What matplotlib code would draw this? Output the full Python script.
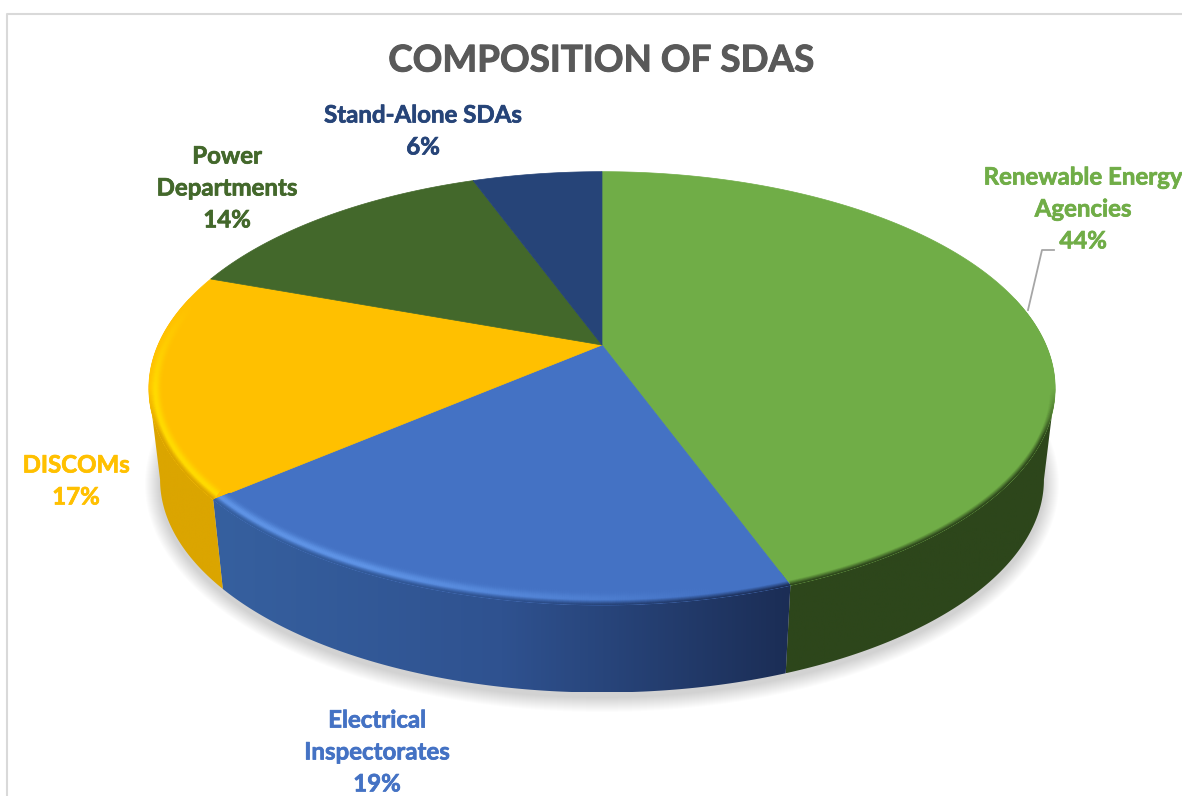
import numpy as np
import matplotlib
matplotlib.use('Agg')
import matplotlib.pyplot as plt
from matplotlib.collections import LineCollection
from matplotlib.colors import LinearSegmentedColormap, to_rgb
from matplotlib.patches import Ellipse, Polygon
import matplotlib.patheffects as pe

# chart data
categories = ['Renewable Energy\nAgencies', 'Electrical\nInspectorates', 'DISCOMs',
              'Power\nDepartments', 'Stand-Alone SDAs']
shares = [44.4, 19.4, 16.7, 13.9, 5.6]
title = 'COMPOSITION OF SDAS'

colors = ['#70ad47', '#4472c4', '#ffc000', '#43682b', '#264478']
highlights = ['#70ad47', '#5f94e6', '#ffdb00', '#43682b', '#264478']
side_stops = [['#2d461b', '#2d461b'], ['#36609f', '#2f5290', '#1b2d55'],
              ['#dba500', '#dba500'], ['#2d461b', '#2d461b'], ['#1b2d55', '#1b2d55']]
label_xy = [(1083, 209), (377, 752), (76, 481), (227, 188), (423, 131)]

# projection of the pie disc in image pixels
APEX = (602, 345)
TOP_A, TOP_B = 444, 208
BASE_APEX = (602, 437)
BASE_A, BASE_B = 433, 204.4
K = 0.2
ELL_CY = 388.5
ELL_RX, ELL_RY = 453, 216.5
SILHOUETTE = np.degrees(np.arcsin(K))
FADE = 25


def disc(theta_deg, apex, a, b):
    t = np.radians(theta_deg)
    d = 1 + K * np.sin(t)
    return apex[0] + a * np.cos(t) / d, apex[1] - b * np.sin(t) / d


def inset(x, y, t):
    # move a rim point t pixels inward, along the ellipse normal
    nx = (x - APEX[0]) / ELL_RX ** 2
    ny = (y - ELL_CY) / ELL_RY ** 2
    n = np.hypot(nx, ny)
    return x - t * nx / n, y - t * ny / n


fig = plt.figure(figsize=(11.82, 7.96), dpi=100, facecolor='white')
ax = fig.add_axes([0, 0, 1, 1])
ax.axis('off')
plt.rcParams['font.family'] = ['Lato', 'DejaVu Sans']

# chart frame
ax.plot([7, 7, 1182], [796, 14, 14], color='#d9d9d9', lw=1.5, zorder=1)

# soft shadow under the pie
for grow in range(1, 16):
    ax.add_patch(Ellipse((BASE_APEX[0], 484), 2 * (442 + grow), 2 * (213 + grow),
                         fc='black', ec='none', alpha=0.012, zorder=2))

ends = 90 - 3.6 * np.cumsum(shares)
starts = np.r_[90, ends[:-1]]
vis_hi, vis_lo = -SILHOUETTE, -180 + SILHOUETTE

# sides of the slices that face the viewer
for hi, lo, stops in zip(starts, ends, side_stops):
    a, b = min(hi, vis_hi), max(lo, vis_lo)
    if a <= b:
        continue
    th = np.linspace(a, b, 200)
    tx, ty = disc(th, APEX, TOP_A, TOP_B)
    bx, by = disc(th, BASE_APEX, BASE_A, BASE_B)
    pts = np.r_[np.c_[tx, ty], np.c_[bx, by][::-1]]
    poly = Polygon(pts, closed=True, fc='none', ec='none', zorder=3)
    ax.add_patch(poly)
    cmap = LinearSegmentedColormap.from_list('side', stops)
    im = ax.imshow(np.linspace(0, 1, 256)[None, :], cmap=cmap, aspect='auto', zorder=3,
                   extent=(pts[:, 0].min(), pts[:, 0].max(), pts[:, 1].max(), pts[:, 1].min()))
    im.set_clip_path(poly)

# top faces, with the bevel along the front rim
for hi, lo, col, hl, stops in zip(starts, ends, colors, highlights, side_stops):
    th = np.linspace(hi, lo, 300)
    x, y = disc(th, APEX, TOP_A, TOP_B)
    pts = np.r_[[APEX], np.c_[x, y]]
    face = Polygon(pts, closed=True, fc=col, ec=col, lw=0.5, zorder=4)
    ax.add_patch(face)

    a, b = min(hi, vis_hi + FADE), max(lo, vis_lo - FADE)
    if a <= b:
        continue
    cmap = LinearSegmentedColormap.from_list('side', stops)
    th = np.linspace(a, b, 300)
    x, y = disc(th, APEX, TOP_A, TOP_B)
    xs = np.linspace(x.min(), x.max(), 2)
    fade = np.clip(np.minimum(th[:-1] - (vis_lo - FADE), (vis_hi + FADE) - th[:-1]) / FADE, 0, 1)[:, None]
    taper = np.clip(np.minimum(th[:-1] - vis_lo, vis_hi - th[:-1]) / 12, 0, 1)[:, None]
    for t in np.arange(15, -0.5, -0.5):
        ix, iy = inset(x, y, t)
        seg = np.stack([np.c_[ix[:-1], iy[:-1]], np.c_[ix[1:], iy[1:]]], axis=1)
        lit = np.clip((720 - ix[:-1]) / 350, 0, 1)[:, None]
        h = np.exp(-((t - 6) / 4.5) ** 2) * lit * fade
        e = np.clip(1 - t / 4.5, 0, 1) * taper
        side = cmap((ix[:-1] - xs[0]) / (xs[1] - xs[0]))[:, :3]
        rgb = np.array(to_rgb(col)) * (1 - h) + np.array(to_rgb(hl)) * h
        rgb = rgb * (1 - e) + side * e
        lc = LineCollection(seg, colors=rgb, lw=1.3, capstyle='butt', zorder=5)
        ax.add_collection(lc)
        lc.set_clip_path(face)

# leader line for the first label
ax.plot([1028, 1042, 1054], [310, 250, 250], color='#a6a6a6', lw=1.3, zorder=6)

# labels and title
for name, share, col, (lx, ly) in zip(categories, shares, colors, label_xy):
    ax.text(lx, ly, f'{name}\n{share:.0f}%', color=col, fontsize=17.3, fontweight='bold',
            ha='center', va='center', linespacing=1.47, zorder=7,
            path_effects=[pe.withStroke(linewidth=0.5, foreground=col)])
ax.text(601, 61, title, color='#595959', fontsize=26.5, fontweight='bold',
        ha='center', va='center', zorder=7,
        path_effects=[pe.withStroke(linewidth=0.7, foreground='#595959')])

ax.set_xlim(0, 1182)
ax.set_ylim(796, 0)
fig.savefig('out.png', dpi=100, facecolor='white')
